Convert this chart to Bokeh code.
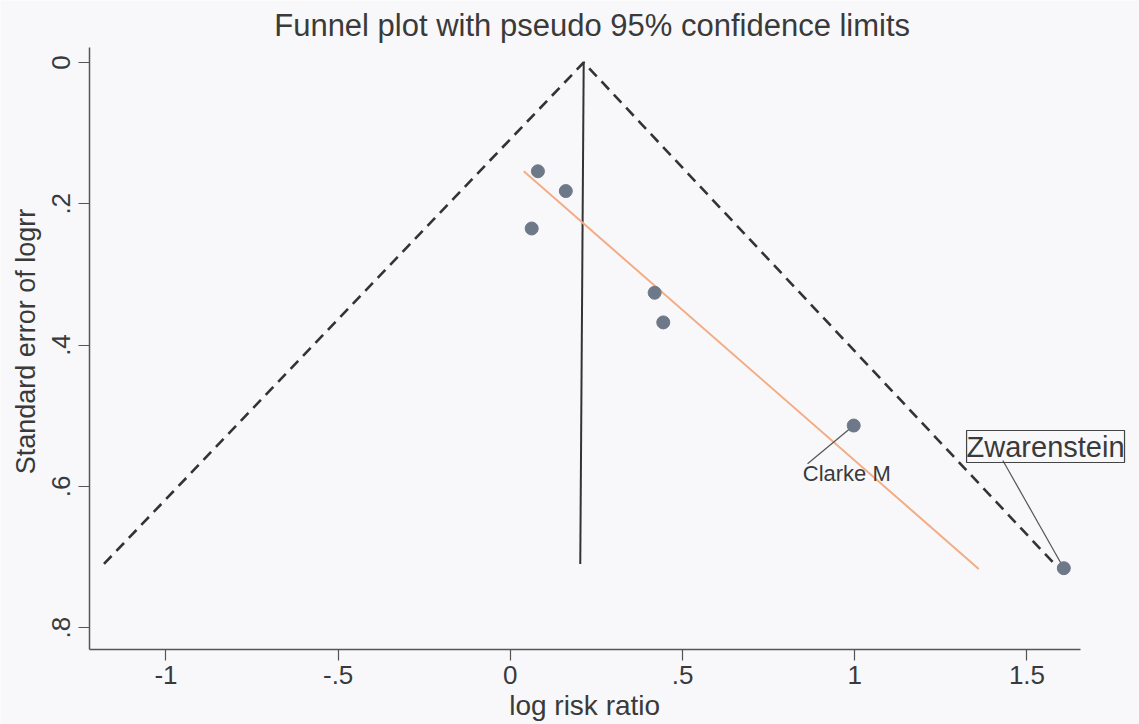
import math
from bokeh.plotting import figure
from bokeh.models import Range1d, FixedTicker, Label, ColumnDataSource, LinearAxis
from bokeh.embed import file_html
from bokeh.resources import INLINE

# ---- data ----
study = ["", "", "", "", "", "Clarke M", "Zwarenstein"]
log_rr = [0.080, 0.161, 0.062, 0.419, 0.444, 0.997, 1.607]
se_logrr = [0.154, 0.182, 0.235, 0.326, 0.368, 0.514, 0.716]

se_max = 0.71           # bottom of funnel
funnel_x = [-1.18, 0.213, 1.58]
funnel_se = [se_max, 0.0, se_max]
pooled_x = [0.213, 0.203]
pooled_se = [0.0, se_max]

fit_x = [0.039, 1.360]  # fitted (regression) line end points
fit_se = [0.154, 0.717]

x_ticks = [-1, -0.5, 0, 0.5, 1, 1.5]
x_tick_labels = ["-1", "-.5", "0", ".5", "1", "1.5"]
y_ticks = [0, 0.2, 0.4, 0.6, 0.8]
y_tick_labels = ["0", ".2", ".4", ".6", ".8"]

x_axis_span = (-1.222, 1.656)
y_axis_span = (-0.021, 0.831)

# label placement
clarke_label = (0.849, 0.582)
clarke_link = (0.863, 0.568)
zw_label = (1.554, 0.5437)
zw_link = (1.430, 0.5635)
title_pos = (0.2375, -0.0524)
x_title_pos = (0.2157, 0.9105)
y_title_pos = (-1.4074, 0.395)

title_text = "Funnel plot with pseudo 95% confidence limits"
x_title = "log risk ratio"
y_title = "Standard error of logrr"

FONT = "Liberation Sans"
TXT = "#3a3a3a"
BG = "#f8f8fa"

p = figure(width=1139, height=724, output_backend="svg", toolbar_location=None,
           x_range=Range1d(-1.4804, 1.8268), y_range=Range1d(0.9373, -0.0878),
           x_axis_location=None, y_axis_location=None,
           min_border_left=0, min_border_right=0, min_border_top=0,
           min_border_bottom=0, background_fill_color=BG, border_fill_color=BG)
p.outline_line_color = None
p.grid.visible = False

# funnel
p.line(funnel_x, funnel_se, line_color="#333333", line_width=2.6, line_dash="11 7")
p.line(pooled_x, pooled_se, line_color="#333333", line_width=2)
p.line(fit_x, fit_se, line_color="#f2ad84", line_width=2)

# connectors
p.segment(x0=[log_rr[5], log_rr[6]], y0=[se_logrr[5], se_logrr[6]],
          x1=[clarke_link[0], zw_link[0]], y1=[clarke_link[1], zw_link[1]],
          line_color="#555555", line_width=1.2)

src = ColumnDataSource(dict(x=log_rr, y=se_logrr, study=study))
p.scatter("x", "y", source=src, size=13, fill_color="#6d7888", line_color="#6d7888")

p.add_layout(Label(x=clarke_label[0], y=clarke_label[1], text=study[5],
                   text_font=FONT, text_font_size="22px", text_color=TXT,
                   text_align="left", text_baseline="middle"))
p.add_layout(Label(x=zw_label[0], y=zw_label[1], text=study[6],
                   text_font=FONT, text_font_size="29px", text_color=TXT,
                   text_align="center", text_baseline="middle",
                   border_line_color="#444444", border_line_width=1.2,
                   background_fill_color=None, padding=0))

# titles
p.add_layout(Label(x=title_pos[0], y=title_pos[1], text=title_text, text_font=FONT,
                   text_font_size="31px", text_color=TXT, text_align="center",
                   text_baseline="middle"))
p.add_layout(Label(x=x_title_pos[0], y=x_title_pos[1], text=x_title, text_font=FONT,
                   text_font_size="28px", text_color=TXT, text_align="center",
                   text_baseline="middle"))
p.add_layout(Label(x=y_title_pos[0], y=y_title_pos[1], text=y_title, text_font=FONT,
                   text_font_size="27px", text_color=TXT, text_align="center",
                   text_baseline="middle", angle=math.pi / 2))

# axes
xa = LinearAxis(fixed_location=y_axis_span[1], bounds=x_axis_span,
                ticker=FixedTicker(ticks=x_ticks),
                major_label_overrides=dict(zip(x_ticks, x_tick_labels)),
                major_label_standoff=6)
ya = LinearAxis(fixed_location=x_axis_span[0], bounds=y_axis_span,
                ticker=FixedTicker(ticks=y_ticks),
                major_label_overrides=dict(zip(y_ticks, y_tick_labels)),
                major_label_orientation="vertical", major_label_standoff=8)
for ax in (xa, ya):
    ax.axis_line_color = "#555555"
    ax.axis_line_width = 1.5
    ax.major_tick_line_color = "#555555"
    ax.major_tick_line_width = 1.2
    ax.major_tick_in = 0
    ax.major_tick_out = 11
    ax.minor_tick_line_color = None
    ax.major_label_text_font = FONT
    ax.major_label_text_font_size = "26px"
    ax.major_label_text_color = TXT
p.add_layout(xa, "below")
p.add_layout(ya, "left")

open("out.html", "w").write(file_html(p, INLINE))
